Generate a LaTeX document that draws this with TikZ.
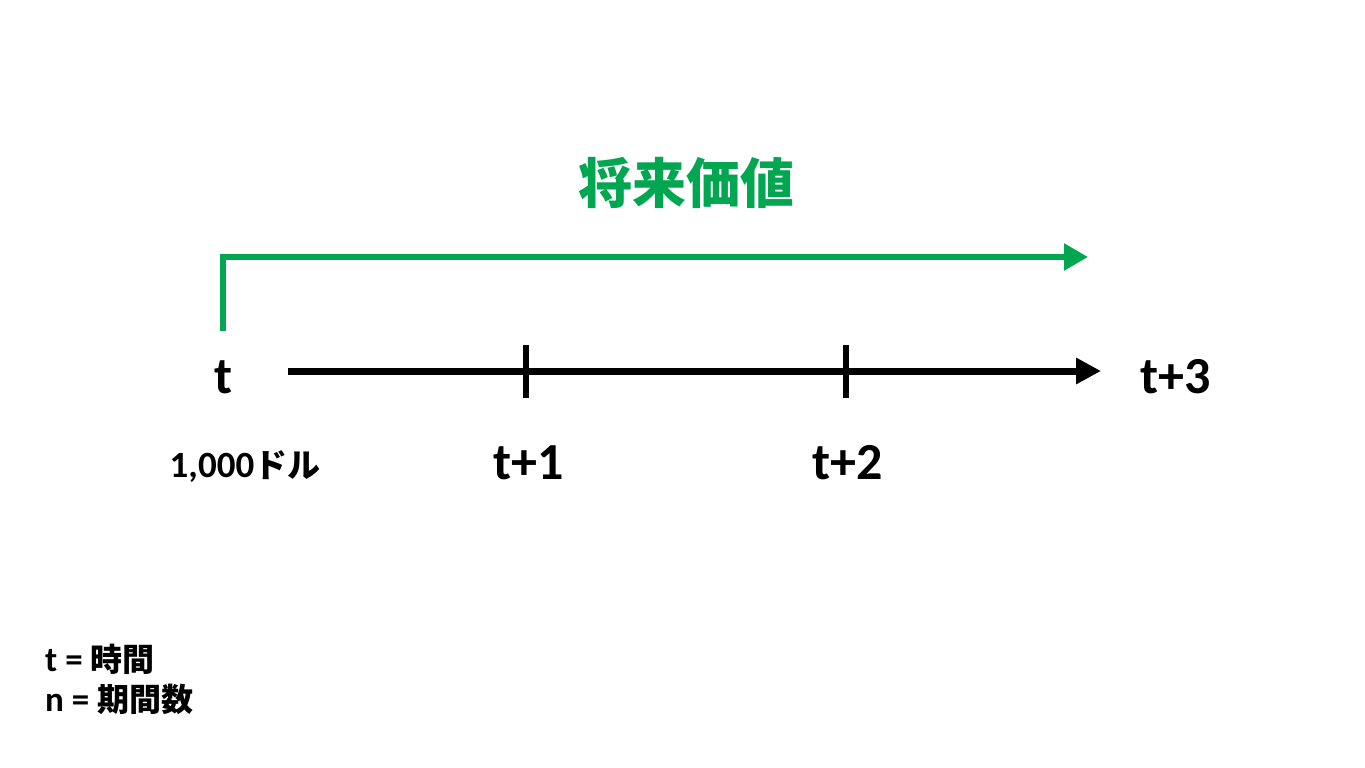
\documentclass[tikz,border=0pt]{standalone}
\usepackage{fontspec}
\setmainfont{Carlito}
\newfontfamily\jp{Noto Sans CJK JP}
\usetikzlibrary{arrows.meta}
\definecolor{fvgreen}{RGB}{0,166,80}
\tikzset{
  lbl/.style={font=\fontsize{52}{56}\selectfont\bfseries, inner sep=0pt, anchor=center},
  axis/.style={line width=7pt, -{Triangle[length=25pt,width=25pt]}},
  tick/.style={line width=5.5pt},
  fv/.style={line width=5.5pt, draw=fvgreen, -{Triangle[length=24pt,width=26pt]}},
  legend/.style={inner sep=0pt, anchor=west, font=\fontsize{35}{38}\selectfont\bfseries},
}
\begin{document}
\begin{tikzpicture}[x=1pt,y=-1pt]
\useasboundingbox[fill=white] (0,0) rectangle (1365,768);
% title
\node[inner sep=0pt, text=fvgreen, font=\fontsize{54}{58}\selectfont\jp\bfseries] (title) at (686,183) {将来価値};
% green arrow
\coordinate (gs) at (223,331);
\coordinate (gc) at (223,257);
\coordinate (ge) at (1088,257);
\draw[fv] (gs) -- (gc) -- (ge);
% axis
\coordinate (a0) at (288,371);
\coordinate (a1) at (1101,371);
\draw[axis] (a0) -- (a1);
\coordinate (k1t) at (526,345); \coordinate (k1b) at (526,398);
\coordinate (k2t) at (846,345); \coordinate (k2b) at (846,398);
\draw[tick] (k1t) -- (k1b);
\draw[tick] (k2t) -- (k2b);
% labels
\node[lbl] (t0) at (224,377) {t};
\node[lbl] (t3) at (1176,377) {t+3};
\node[lbl] (t1) at (529,463) {t+1};
\node[lbl] (t2) at (848,463) {t+2};
\node[inner sep=0pt, font=\fontsize{37}{40}\selectfont\bfseries] (amt) at (245,467) {1,000{\jp\fontsize{33}{36}\selectfont ドル}};
% legend
\node[legend] (lg1) at (45,659) {t = {\jp\fontsize{32}{36}\selectfont 時間}};
\node[legend] (lg2) at (45,699) {n = {\jp\fontsize{32}{36}\selectfont 期間数}};
\end{tikzpicture}
\end{document}
